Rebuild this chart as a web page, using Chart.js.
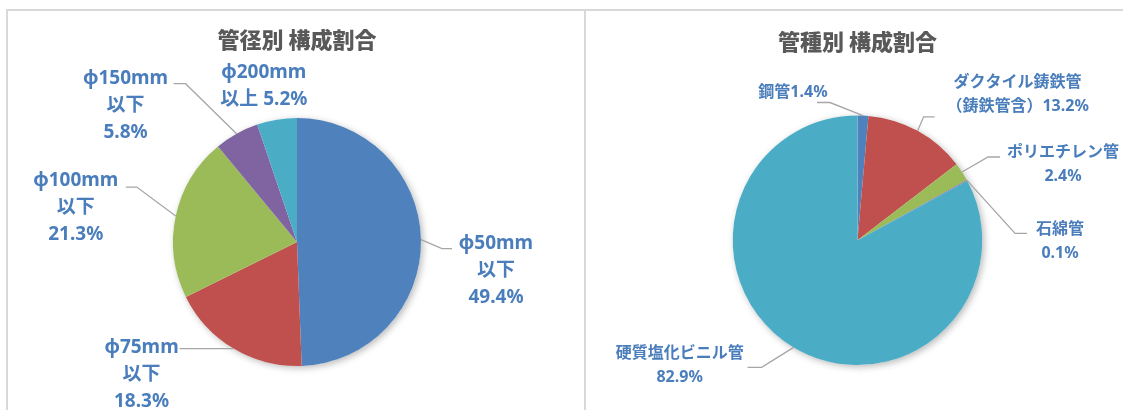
<!DOCTYPE html>
<html>
<head>
<meta charset="utf-8">
<script src="https://cdn.jsdelivr.net/npm/chart.js"></script>
<style>
  body { margin: 0; background: #fff; }
  #wrap { position: relative; width: 1123px; height: 410px; overflow: hidden; }
  .panel { position: absolute; border-top: 2px solid #d9d9d9; border-left: 2px solid #d9d9d9; }
  canvas { position: absolute; top: 0; }
</style>
</head>
<body>
<div id="wrap">
  <div class="panel" style="left:6px;top:9px;width:1200px;height:500px"></div>
  <div class="panel" style="left:584px;top:9px;width:600px;height:500px"></div>
  <canvas id="sizeChart" width="580" height="410" style="left:0"></canvas>
  <canvas id="typeChart" width="543" height="410" style="left:580px"></canvas>
</div>
<script>
// 管径別
const sizeCategories = ['φ50mm\n以下', 'φ75mm\n以下', 'φ100mm\n以下', 'φ150mm\n以下', 'φ200mm\n以上'];
const sizeValues = [49.4, 18.3, 21.3, 5.8, 5.2];
const sizeSeparators = ['\n', '\n', '\n', '\n', ' '];

// 管種別
const typeCategories = ['鋼管', 'ダクタイル鋳鉄管\n（鋳鉄管含）', 'ポリエチレン管', '石綿管', '硬質塩化ビニル管'];
const typeValues = [1.4, 13.2, 2.4, 0.1, 82.9];
const typeSeparators = ['', '', '\n', '\n', '\n'];

const colors = ['#4F81BD', '#C0504D', '#9BBB59', '#8064A2', '#4BACC6'];
const fontFamily = "'Noto Sans', 'Noto Sans CJK JP', sans-serif";

function labelTexts(cats, vals, seps) {
  return cats.map((c, i) => c + seps[i] + vals[i].toFixed(1) + '%');
}

// draws shadow under the pie, leader lines and data labels
const pieLabels = {
  id: 'pieLabels',
  beforeDatasetsDraw(chart) {
    const first = chart.getDatasetMeta(0).data[0];
    const p = first.getProps(['x', 'y', 'outerRadius'], true);
    const ctx = chart.ctx;
    ctx.save();
    ctx.shadowColor = 'rgba(0,0,0,0.28)';
    ctx.shadowBlur = 7;
    ctx.shadowOffsetX = 2;
    ctx.shadowOffsetY = 2;
    ctx.beginPath();
    ctx.arc(p.x, p.y, p.outerRadius, 0, Math.PI * 2);
    ctx.fillStyle = '#fff';
    ctx.fill();
    ctx.restore();
  },
  afterDatasetsDraw(chart, args, opts) {
    const ctx = chart.ctx;
    chart.getDatasetMeta(0).data.forEach((arc, i) => {
      const p = arc.getProps(['x', 'y', 'startAngle', 'endAngle', 'outerRadius'], true);
      const mid = (p.startAngle + p.endAngle) / 2;
      const ex = p.x + Math.cos(mid) * p.outerRadius;
      const ey = p.y + Math.sin(mid) * p.outerRadius;
      const L = opts.layout[i];
      ctx.save();
      if (L.leader) {
        const [dx, dy, tail] = L.leader;
        ctx.beginPath();
        ctx.moveTo(ex, ey);
        ctx.lineTo(ex + dx, ey + dy);
        ctx.lineTo(ex + dx + tail, ey + dy);
        ctx.strokeStyle = '#a6a6a6';
        ctx.lineWidth = 1.3;
        ctx.stroke();
      }
      const lines = opts.texts[i].split('\n');
      ctx.font = 'bold ' + opts.fontSize + 'px ' + fontFamily;
      ctx.fillStyle = '#4a7dbb';
      ctx.textAlign = 'center';
      ctx.textBaseline = 'middle';
      const tx = ex + L.text[0];
      const ty = ey + L.text[1] - (lines.length - 1) * opts.lineHeight / 2;
      lines.forEach((s, k) => ctx.fillText(s, tx, ty + k * opts.lineHeight));
      ctx.restore();
    });
  }
};

function pieOptions(title, titlePad, padding, labelOpts) {
  return {
    responsive: false,
    animation: false,
    events: [],
    layout: { padding: padding },
    plugins: {
      legend: { display: false },
      tooltip: { enabled: false },
      title: {
        display: true,
        text: title,
        color: '#595959',
        font: { family: "'Noto Sans CJK JP', sans-serif", size: 22, weight: '900', lineHeight: 1.2 },
        padding: titlePad
      },
      pieLabels: labelOpts
    }
  };
}

new Chart('sizeChart', {
  type: 'pie',
  data: {
    labels: sizeCategories.map(c => c.replace('\n', '')),
    datasets: [{ data: sizeValues, backgroundColor: colors, borderWidth: 0, hoverOffset: 0 }]
  },
  options: pieOptions('管径別 構成割合', { top: 26, bottom: 65.6 }, { left: 14, right: 0, top: 0, bottom: 44 }, {
    texts: labelTexts(sizeCategories, sizeValues, sizeSeparators),
    fontSize: 19,
    lineHeight: 27,
    layout: [
      { leader: [21, 9, 10], text: [75, 31] },
      { leader: [-4, 0, -50], text: [-92, 26] },
      { leader: [-39, -29, -11], text: [-100, -8] },
      { leader: [-51, -50, -12], text: [-111, -28] },
      { leader: null, text: [-13, -34] }
    ]
  }),
  plugins: [pieLabels]
});

new Chart('typeChart', {
  type: 'pie',
  data: {
    labels: typeCategories.map(c => c.replace('\n', '')),
    datasets: [{ data: typeValues, backgroundColor: colors, borderWidth: 0, hoverOffset: 0 }]
  },
  options: pieOptions('管種別 構成割合', { top: 28, bottom: 61 }, { left: 12, right: 0, top: 0, bottom: 45 }, {
    texts: labelTexts(typeCategories, typeValues, typeSeparators),
    fontSize: 16,
    lineHeight: 24,
    layout: [
      { leader: [-33, -13, -13], text: [-70, -23] },
      { leader: [6, -14, 11], text: [100, -36] },
      { leader: [26, -15, 12], text: [101, -8] },
      { leader: [48, 53, 12], text: [93, 61] },
      { leader: [-32, 20, -14], text: [-114, 18] }
    ]
  }),
  plugins: [pieLabels]
});
</script>
</body>
</html>
